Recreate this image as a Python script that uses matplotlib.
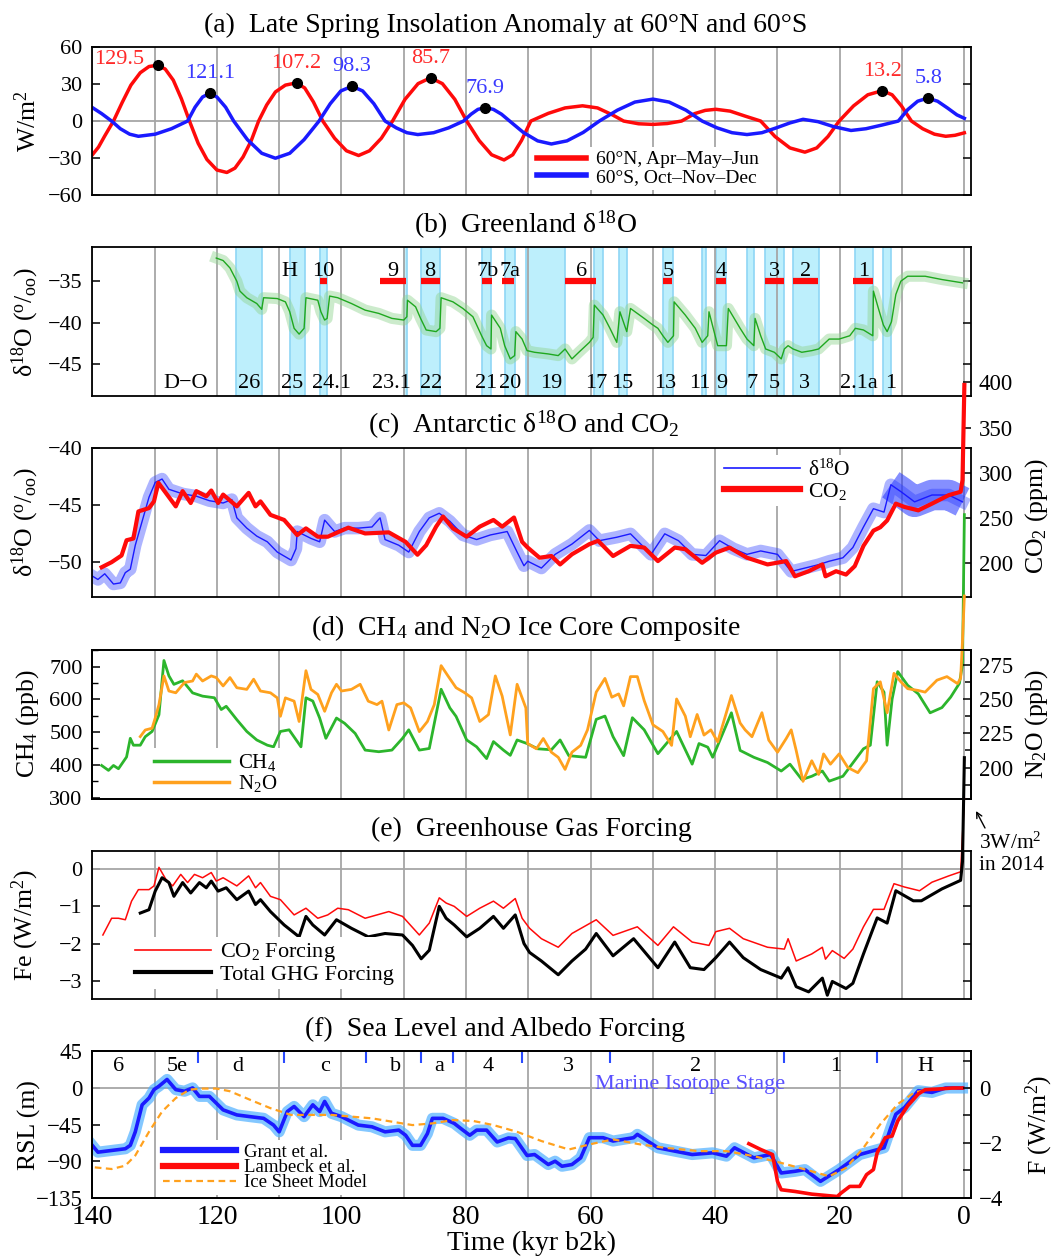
import matplotlib
matplotlib.use('Agg')
import matplotlib.pyplot as plt
from matplotlib.lines import Line2D
from matplotlib.ticker import MultipleLocator, FuncFormatter

plt.rcParams['font.family'] = ['Liberation Serif', 'DejaVu Serif']
plt.rcParams['mathtext.fontset'] = 'custom'
plt.rcParams['mathtext.rm'] = 'Liberation Serif'
plt.rcParams['mathtext.it'] = 'Liberation Serif:italic'
plt.rcParams['axes.linewidth'] = 1.3

# ---------------- data (kyr b2k, value) ----------------
# (a) insolation anomaly
ins_n = [(140, -27.3), (139, -21), (138, -12), (136.6, 0), (135.2, 15), (133.8, 29), (132.3, 39),
         (130.9, 44), (129.6, 45), (128.3, 42), (127, 33), (125.7, 18), (124.4, 0), (123, -18),
         (121.6, -31), (120, -39.5), (118.4, -41.5), (117.1, -38), (115.8, -29), (114.5, -16),
         (113.3, 0), (112, 13), (110.6, 23.5), (109, 29), (107.25, 30.8), (105.9, 26.7), (104.5, 15.4),
         (103, 0), (101.1, -13.9), (99.2, -24), (97.25, -27.8), (95.5, -24), (93.6, -13.9), (91.8, 0),
         (89.8, 17.5), (87.7, 30.2), (85.7, 34.9), (83.8, 30.2), (81.8, 17.5), (79.9, 0), (77.9, -15.7),
         (75.9, -27.2), (73.9, -31.4), (72.5, -27.2), (71.1, -15.7), (69.6, 0), (66.8, 6.2), (64.1, 10.6),
         (61.3, 12.3), (58.9, 10.6), (56.5, 5), (54.7, 0), (52.3, -2.2), (50, -2.7), (47.7, -2.0),
         (45.4, 0), (43.3, 6), (41.6, 8.6), (39.9, 9.5), (37.6, 8.0), (35.2, 4), (32.7, 0),
         (30.4, -12.5), (28, -21.7), (25.6, -25.1), (23.7, -21.7), (21.9, -12.5), (20.1, 0),
         (17.8, 12.2), (15.5, 21.2), (13.2, 24.5), (11.6, 21.2), (10.1, 12.2), (8.5, 0), (6.7, -6.2),
         (4.8, -10.6), (3, -12.3), (1.5, -11.5), (0, -9.5)]
ins_s = [(140, 10.9), (138.5, 6), (136.9, 0), (135.5, -6.2), (134, -10.6), (132.6, -12.3),
         (129.9, -10.6), (127.3, -6.2), (124.7, 0), (123.5, 11.2), (122.3, 19.4), (121.15, 22.4),
         (120, 19.4), (118.6, 11.2), (117.3, 0), (115.1, -15), (112.8, -26), (110.6, -30), (108.3, -26),
         (106, -15), (103.6, 0), (101.8, 14), (100.1, 24.3), (98.3, 28.1), (96.6, 24.3), (94.8, 14),
         (93, 0), (91.2, -5.5), (89.5, -9.4), (87.75, -10.9), (85.2, -9.4), (82.8, -5.5), (80.4, 0),
         (79.2, 5.5), (78.1, 9.4), (76.9, 10.9), (75.6, 9.4), (74.3, 5.5), (73, 0), (70.8, -9.2),
         (68.5, -16), (66.3, -18.5), (63.8, -16), (61.2, -9.2), (58.6, 0), (55.7, 8.8), (52.9, 15.3),
         (50, 17.7), (47.4, 15.3), (44.7, 8.8), (42.1, 0), (39.7, -5.5), (37.3, -9.4), (34.9, -10.9),
         (32.5, -9.4), (30.2, -5.5), (28, -1.5), (25.9, 1.4), (23.5, -0.5), (21, -4.5), (18.2, -7.6),
         (15.8, -6.2), (13.2, -3.2), (10.6, 0), (9.1, 9.2), (7.5, 16), (5.9, 18.5), (4.3, 16),
         (2.7, 10.5), (1.2, 5), (0, 2.2)]
peak_n_kyr = [129.5, 107.2, 85.7, 13.2]
peak_n_val = [45, 30.8, 34.9, 24.5]
peak_s_kyr = [121.1, 98.3, 76.9, 5.8]
peak_s_val = [22.4, 28.1, 10.9, 18.5]

# (b) Greenland d18O
green_d18o = [(120.1, -32.2), (119.0, -32.5), (117.9, -33.4), (116.8, -35.0), (116.3, -36.2),
              (115.2, -37.0), (113.6, -37.7), (112.8, -38.4), (112.5, -37.0), (110.3, -37.1),
              (109.0, -37.5), (108.3, -38.7), (107.6, -40.7), (106.8, -41.4), (106.0, -40.7),
              (105.7, -37.0), (103.8, -37.3), (103.3, -38.7), (102.7, -39.7), (102.3, -39.5),
              (101.9, -36.8), (100.6, -37.0), (98.4, -37.7), (96.2, -38.5), (94.0, -38.9), (91.9, -39.5),
              (90.0, -39.7), (89.5, -39.3), (89.4, -37.3), (88.1, -38.1), (87.3, -39.5), (86.4, -40.9),
              (84.8, -41.1), (84.2, -40.7), (84.0, -37.0), (82.1, -37.5), (80.5, -38.3), (78.9, -39.3),
              (77.5, -41.6), (76.7, -42.8), (76.0, -43.2), (75.9, -39.1), (74.5, -40.7), (73.8, -42.8),
              (72.9, -44.4), (72.2, -44.0), (72.0, -41.1), (71.0, -42.0), (70.2, -43.4), (69.0, -43.6),
              (66.8, -43.8), (65.2, -44.0), (64.1, -43.2), (63.0, -44.4), (61.9, -43.6), (60.2, -42.4),
              (59.6, -41.8), (59.4, -37.9), (58.0, -39.1), (56.9, -40.7), (55.8, -42.4), (55.3, -38.7),
              (54.2, -41.1), (53.6, -38.3), (51.4, -39.5), (50.0, -40.3), (49.2, -40.7), (48.4, -41.6),
              (47.6, -42.4), (46.7, -41.6), (46.6, -37.5), (44.8, -39.1), (43.2, -40.7), (42.1, -42.4),
              (41.2, -41.6), (41.0, -38.7), (39.6, -42.8), (38.2, -42.8), (37.9, -38.3), (36.0, -40.7),
              (34.9, -42.0), (33.8, -42.8), (33.6, -39.5), (32.7, -41.6), (31.9, -43.2), (30.5, -43.6),
              (29.4, -44.4), (28.9, -43.2), (28.3, -42.8), (27.5, -43.2), (26.1, -43.6), (24.5, -43.4),
              (23.4, -43.2), (21.7, -42.0), (20.1, -42.0), (18.4, -41.6), (17.5, -40.7), (16.2, -40.9),
              (14.7, -41.6), (14.6, -36.2), (13.8, -38.3), (13.0, -40.3), (12.4, -41.1), (11.7, -39.9),
              (11.0, -36.6), (10.2, -35.0), (9.1, -34.4), (6.3, -34.4), (3.6, -34.8), (0.3, -35.2)]
stadials = [(117.0, 112.8), (108.3, 105.9), (103.5, 102.3), (90.0, 89.5), (87.3, 84.2), (77.5, 76.0),
            (73.8, 72.2), (70.4, 64.1), (59.5, 58.0), (55.4, 54.2), (48.4, 46.7), (42.2, 41.4),
            (39.8, 38.2), (34.9, 33.8), (32.0, 28.9), (27.5, 23.4), (17.5, 14.7), (13.0, 11.7)]
do_labels = ['D\u2212O', '26', '25', '24.1', '23.1', '22', '21', '20', '19', '17', '15', '13', '11',
             '9', '7', '5', '3', '2.1a', '1']
do_x = [125.0, 114.9, 108.0, 101.6, 91.9, 85.6, 76.8, 73.0, 66.4, 59.1, 55.0, 48.1, 42.5, 39.0,
        34.1, 30.5, 25.6, 16.9, 11.8]
heinrich_labels = ['H', '10', '9', '8', '7b', '7a', '6', '5', '4', '3', '2', '1']
heinrich_x = [108.3, 103.0, 91.7, 85.8, 76.6, 73.0, 61.5, 47.6, 39.0, 30.5, 25.5, 16.2]
heinrich_bars = [(103.5, 102.3), (93.8, 89.7), (87.3, 84.2), (77.5, 75.9), (74.2, 72.3),
                 (64.1, 59.1), (48.4, 47.0), (39.9, 38.2), (32.0, 28.9), (27.5, 23.5), (17.8, 14.7)]

# (c) Antarctic d18O and CO2
ant_d18o = [(140, -51.2), (139.1, -51.5), (138.0, -51.0), (136.6, -51.9), (135.5, -51.8),
            (134.7, -50.9), (133.9, -50.6), (133.1, -48.5), (132.0, -46.4), (130.9, -44.3),
            (129.9, -43.0), (128.8, -42.7), (127.7, -43.6), (125.5, -44.0), (123.3, -44.2),
            (121.2, -44.6), (119.0, -44.8), (117.6, -44.5), (116.8, -46.1), (115.2, -47.0),
            (113.6, -47.7), (111.9, -48.2), (110.3, -49.1), (108.1, -49.8), (107.3, -48.8),
            (107.1, -47.3), (104.9, -47.9), (103.5, -48.2), (102.7, -46.3), (101.1, -47.3),
            (99.5, -47.0), (97.3, -47.0), (95.1, -46.9), (93.8, -46.1), (93.0, -48.0), (90.8, -48.5),
            (89.2, -49.1), (87.5, -47.3), (85.9, -46.1), (84.3, -45.7), (82.6, -46.4), (80.5, -47.6),
            (78.3, -48.0), (76.1, -47.6), (73.4, -47.3), (71.8, -49.1), (70.7, -50.3), (70.1, -49.9),
            (67.9, -50.5), (65.7, -49.3), (63.0, -48.4), (60.2, -47.2), (58.6, -48.1), (55.8, -47.8),
            (53.6, -47.5), (50.3, -49.3), (48.1, -47.5), (45.9, -48.1), (43.7, -49.3), (41.5, -49.4),
            (39.3, -48.1), (37.1, -48.8), (34.9, -49.3), (32.7, -49.0), (30.0, -49.3), (27.8, -50.8),
            (25.6, -50.5), (23.4, -50.2), (21.7, -49.9), (19.5, -49.6), (17.9, -48.7), (16.2, -46.9),
            (14.6, -45.3), (12.9, -45.6), (11.8, -43.2), (10.2, -43.8), (8.0, -44.7), (5.2, -44.1),
            (2.5, -44.1), (0.3, -44.7)]
co2 = [(138.5, 195.8), (136.9, 201.4), (135.3, 208.8), (134.5, 225.6), (133.4, 227.5), (132.6, 257.4),
       (130.9, 261.1), (130.1, 268.5), (129.4, 289.1), (128.2, 277.9), (126.6, 263.0), (125.5, 279.8),
       (124.2, 266.7), (123.3, 279.8), (121.7, 274.1), (120.9, 280.5), (119.8, 266.7), (119.0, 276.0),
       (116.8, 263.0), (114.9, 277.9), (113.8, 263.0), (113.0, 268.5), (111.4, 253.6), (109.2, 248.0),
       (107.1, 231.3), (105.7, 238.7), (103.8, 229.5), (102.2, 229.5), (98.9, 239.5), (96.2, 233.1),
       (92.4, 234.3), (89.7, 223.8), (87.8, 209.6), (86.4, 220.1), (84.8, 240.6), (83.7, 251.8),
       (82.1, 238.7), (79.9, 229.5), (77.8, 240.6), (75.6, 248.0), (74.2, 240.6), (72.3, 250.7),
       (71.0, 223.8), (70.1, 217.5), (68.2, 206.3), (66.3, 208.2), (64.9, 198.9), (63.0, 210.1),
       (60.2, 221.3), (58.8, 225.0), (56.4, 208.2), (53.6, 219.4), (51.4, 217.5), (49.2, 202.6),
       (46.5, 217.5), (44.8, 215.7), (42.1, 200.7), (39.9, 211.9), (37.7, 217.5), (34.9, 206.3),
       (31.6, 198.9), (28.6, 202.6), (27.2, 185.8), (25.0, 191.4), (22.8, 198.9), (22.3, 185.8),
       (20.6, 191.4), (19.0, 187.7), (17.6, 197.0), (16.2, 219.4), (14.6, 236.2), (13.5, 239.9),
       (12.4, 247.4), (11.0, 266.0), (9.6, 262.3), (7.4, 258.6), (5.2, 266.0), (2.5, 275.4),
       (0.6, 279.1), (0.3, 292), (0.0, 397)]

# (d) CH4 and N2O
ch4 = [(138.5, 398), (137.4, 383), (136.6, 398), (135.8, 388), (134.5, 424), (133.9, 481), (133.4, 460),
       (132.3, 460), (131.5, 486), (130.4, 502), (129.3, 553), (128.5, 719), (127.7, 672), (126.9, 646),
       (125.5, 657), (123.9, 620), (122.3, 610), (120.4, 605), (119.3, 569), (118.5, 579), (116.8, 538),
       (115.2, 502), (113.6, 476), (111.9, 460), (110.9, 455), (109.8, 502), (108.4, 507), (106.5, 455),
       (105.7, 605), (104.6, 595), (103.5, 543), (102.5, 481), (100.8, 543), (99.5, 527), (97.8, 496),
       (96.2, 445), (94.0, 440), (91.9, 445), (90.2, 481), (89.2, 507), (87.5, 445), (85.9, 450),
       (84.0, 631), (82.6, 574), (81.6, 548), (79.9, 476), (78.3, 455), (76.7, 419), (75.6, 471),
       (74.0, 445), (72.9, 429), (71.8, 476), (70.2, 465), (68.5, 449), (66.3, 446), (64.9, 476),
       (63.5, 428), (60.8, 423), (59.1, 539), (57.7, 549), (56.4, 486), (54.7, 428), (53.3, 544),
       (51.4, 507), (49.2, 434), (46.2, 502), (43.7, 402), (42.6, 465), (41.2, 454), (40.4, 423),
       (37.4, 559), (36.0, 444), (33.8, 423), (31.6, 407), (29.4, 381), (28.0, 402), (26.1, 355),
       (24.5, 365), (22.8, 381), (21.7, 350), (19.5, 365), (16.2, 449), (15.1, 460), (14.0, 654),
       (12.9, 622), (12.4, 460), (11.6, 601), (10.7, 685), (9.1, 643), (7.4, 617), (5.5, 559),
       (3.6, 575), (2.2, 607), (0.8, 649), (0.3, 706), (0.0, 1165)]
n2o = [(132.3, 222.6), (131.5, 227.4), (130.4, 228.7), (129.9, 236.1), (129.3, 245.9), (128.5, 266.8),
       (127.7, 255.8), (126.6, 254.5), (125.2, 262.0), (123.9, 263.1), (123.3, 268.1), (122.3, 263.1),
       (120.9, 266.8), (120.1, 265.6), (119.0, 259.5), (117.9, 265.6), (116.8, 258.2), (115.2, 257.0),
       (114.1, 264.4), (113.0, 255.8), (111.4, 254.5), (110.3, 250.8), (109.8, 237.4), (109.0, 250.8),
       (107.6, 248.4), (106.8, 233.6), (105.7, 270.6), (104.9, 257.0), (103.8, 253.3), (102.7, 241.0),
       (101.6, 254.5), (100.8, 260.7), (100.0, 255.8), (98.4, 257.0), (97.0, 260.7), (95.7, 248.4),
       (94.3, 245.9), (93.5, 248.4), (92.4, 227.4), (91.1, 245.9), (90.0, 247.2), (88.9, 243.5),
       (87.5, 226.2), (86.2, 233.6), (85.1, 245.9), (84.0, 274.3), (82.9, 266.8), (81.6, 258.2),
       (80.2, 254.5), (79.1, 250.8), (77.8, 233.6), (76.4, 238.6), (75.3, 266.8), (74.2, 252.1),
       (72.9, 223.8), (71.8, 260.7), (70.4, 243.5), (70.1, 217.5), (68.7, 213.7), (67.6, 221.2),
       (66.3, 211.2), (65.2, 207.5), (64.1, 198.7), (63.0, 211.2), (61.6, 216.2), (60.5, 227.5),
       (59.1, 255.0), (57.7, 265.0), (56.6, 251.3), (55.5, 253.7), (54.7, 245.0), (53.6, 266.3),
       (52.5, 266.3), (51.4, 248.8), (50.0, 231.2), (48.4, 226.3), (47.0, 216.2), (46.2, 250.0),
       (44.8, 237.5), (44.0, 222.5), (42.9, 238.7), (41.8, 223.7), (40.7, 227.5), (39.6, 218.7),
       (37.4, 252.5), (36.0, 232.5), (35.2, 227.5), (34.1, 222.5), (32.5, 240.0), (31.4, 220.0),
       (30.0, 211.2), (28.6, 221.2), (27.8, 227.5), (27.0, 212.5), (25.9, 190.0), (24.5, 205.0),
       (23.4, 195.0), (22.6, 210.0), (21.5, 202.5), (20.1, 210.0), (18.7, 200.0), (17.1, 196.3),
       (15.7, 205.0), (14.6, 257.5), (13.5, 262.5), (12.4, 240.0), (11.3, 268.7), (10.2, 262.5),
       (9.1, 257.5), (7.4, 256.2), (6.3, 255.0), (4.4, 263.7), (2.8, 266.3), (1.1, 261.2),
       (0.6, 265.0), (0.3, 292.5), (0.0, 325)]

# (e) GHG forcing (W/m2)
co2_forcing = [(138.3, -1.77), (136.9, -1.32), (135.8, -1.32), (134.7, -1.36), (133.7, -0.86),
               (132.6, -0.55), (130.9, -0.55), (130.1, -0.45), (129.3, 0.05), (128.2, -0.27),
               (127.1, -0.45), (125.8, -0.14), (124.7, -0.36), (123.6, -0.14), (122.3, -0.23),
               (120.9, -0.09), (120.1, -0.32), (119.0, -0.23), (116.8, -0.45), (114.9, -0.18),
               (113.8, -0.50), (113.0, -0.36), (111.4, -0.73), (109.8, -0.82), (107.6, -1.23),
               (105.7, -1.05), (103.8, -1.32), (102.2, -1.23), (100.6, -1.05), (98.9, -1.09),
               (96.2, -1.32), (92.4, -1.14), (90.2, -1.27), (87.5, -1.77), (85.9, -1.45), (84.3, -0.77),
               (83.2, -0.91), (81.9, -1.0), (79.9, -1.27), (77.8, -1.05), (75.6, -0.86), (74.0, -1.05),
               (72.1, -0.79), (71.0, -1.32), (69.8, -1.59), (67.9, -1.87), (65.2, -2.10), (63.0, -1.73),
               (59.1, -1.36), (56.4, -1.78), (52.5, -1.55), (49.2, -2.05), (46.7, -1.55), (43.7, -1.96),
               (41.0, -2.05), (39.9, -1.68), (37.7, -1.59), (35.5, -1.87), (31.6, -2.10), (28.9, -2.15),
               (28.3, -1.87), (27.0, -2.47), (24.5, -2.28), (22.8, -2.10), (22.3, -2.42), (21.2, -2.19),
               (19.3, -2.40), (17.9, -2.15), (16.2, -1.55), (14.6, -1.08), (12.9, -1.08), (11.3, -0.39),
               (9.6, -0.48), (7.2, -0.58), (5.2, -0.35), (2.5, -0.18), (0.6, -0.07), (0.0, 1.9)]
ghg_forcing = [(132.3, -1.18), (130.9, -1.09), (129.9, -0.59), (128.8, -0.23), (127.7, -0.36),
               (126.9, -0.73), (125.5, -0.36), (124.2, -0.64), (122.8, -0.36), (121.7, -0.5),
               (120.9, -0.32), (119.8, -0.59), (118.5, -0.5), (116.8, -0.82), (114.9, -0.59),
               (113.8, -0.95), (113.0, -0.82), (111.4, -1.14), (109.2, -1.5), (106.8, -1.82),
               (105.7, -1.27), (104.6, -1.5), (102.7, -1.77), (100.8, -1.36), (98.4, -1.59), (95.7, -1.82),
               (93.0, -1.73), (90.2, -1.77), (88.6, -2.05), (87.2, -2.41), (85.9, -2.18), (84.3, -1.0),
               (83.2, -1.32), (81.9, -1.5), (79.9, -1.82), (77.8, -1.59), (75.6, -1.27), (74.0, -1.59),
               (72.1, -1.23), (70.7, -2.0), (69.8, -2.24), (67.9, -2.47), (65.2, -2.84), (63.0, -2.47),
               (60.8, -2.15), (59.1, -1.73), (56.4, -2.33), (53.1, -1.87), (49.2, -2.65), (46.5, -1.96),
               (44.0, -2.65), (41.8, -2.70), (39.9, -2.38), (37.7, -1.96), (35.5, -2.38), (32.7, -2.70),
               (29.4, -2.93), (28.3, -2.65), (27.0, -3.16), (25.0, -3.30), (22.8, -2.93), (22.0, -3.39),
               (21.2, -3.02), (19.0, -3.21), (17.9, -3.07), (16.2, -2.28), (14.0, -1.31), (12.4, -1.45),
               (11.0, -0.58), (8.2, -0.85), (6.9, -0.85), (3.6, -0.53), (0.6, -0.30), (0.3, 0.21),
               (0.0, 3.0)]

# (f) sea level (m)
grant = [(140, -70.5), (139.1, -78.9), (136.9, -76.8), (134.7, -74.7), (133.9, -70.5), (133.1, -53.9),
         (132.0, -20.7), (130.9, -12.4), (130.1, -2.0), (129.3, 2.2), (128.0, 10.5), (126.6, -2.0),
         (125.2, -4.0), (123.9, 0.1), (122.8, -10.3), (121.2, -10.3), (120.1, -18.6), (119.0, -26.9),
         (116.8, -33.1), (114.7, -35.2), (112.5, -37.3), (110.9, -45.6), (110.0, -53.9), (108.7, -29.0),
         (107.6, -22.7), (106.0, -35.2), (104.6, -20.7), (103.5, -29.0), (102.7, -16.5), (101.6, -31.1),
         (100.0, -35.2), (97.3, -45.6), (95.1, -47.7), (93.0, -53.9), (90.8, -51.8), (89.7, -58.1),
         (88.6, -70.5), (87.3, -70.5), (86.2, -56.0), (85.4, -37.3), (83.7, -37.3), (81.9, -43.5),
         (80.5, -51.8), (79.4, -58.1), (78.3, -51.8), (76.7, -51.8), (75.0, -66.4), (73.2, -61.4),
         (72.1, -62.2), (70.2, -83.0), (69.0, -81.8), (66.8, -94.1), (65.7, -90.0), (64.6, -96.2),
         (63.0, -94.1), (61.6, -85.9), (60.2, -61.1), (58.0, -61.1), (56.4, -65.2), (53.1, -61.1),
         (52.5, -57.0), (49.2, -73.5), (46.5, -77.6), (43.7, -81.8), (40.4, -79.7), (38.2, -83.8),
         (36.9, -73.5), (33.8, -85.9), (31.1, -81.8), (29.4, -104.5), (27.2, -102.4), (25.6, -100.3),
         (23.1, -114.8), (20.1, -100.3), (16.8, -81.8), (12.9, -73.5), (11.8, -48.7), (11.0, -32.2),
         (9.6, -23.9), (7.4, -3.3), (5.2, -5.4), (3.0, 0), (0.3, 0)]
lambeck = [(34.6, -68.5), (32.7, -75.6), (30.8, -81.8), (30.0, -114.8), (29.4, -125.1), (27.2, -127.2),
           (24.5, -130.5), (20.4, -133.4), (19.8, -129.2), (18.4, -121.0), (16.8, -121.0), (15.7, -106.5),
           (14.6, -100.3), (14.0, -79.7), (12.7, -61.1), (11.6, -59.0), (10.7, -40.5), (9.1, -21.9),
           (7.4, -7.4), (6.3, -2.1), (4.1, -1.2), (1.9, 0), (0.3, 0)]
ice_model = [(139.6, -97.6), (136.9, -99.6), (134.7, -95.5), (133.1, -83.0), (130.9, -53.9),
             (128.8, -29.0), (126.6, -12.4), (124.4, -2.0), (122.3, -0.7), (120.1, -0.7), (117.9, -4.0),
             (114.7, -14.4), (111.4, -24.8), (108.1, -33.1), (104.9, -33.1), (101.6, -33.1),
             (98.4, -35.2), (95.1, -37.3), (91.9, -41.4), (88.6, -45.6), (85.4, -43.5), (82.1, -39.4),
             (78.8, -40.6), (75.6, -45.6), (71.8, -53.9), (67.9, -65.2), (63.5, -75.6), (60.2, -69.4),
             (56.4, -63.2), (52.0, -69.4), (48.1, -73.5), (42.6, -77.6), (38.2, -77.6), (33.8, -83.8),
             (29.4, -92.1), (24.5, -102.4), (21.7, -108.6), (19.0, -98.3), (16.2, -73.5), (13.5, -44.6),
             (10.7, -19.8), (8.0, -5.4), (5.2, -1.2), (0.3, 0)]
mis_labels = ['6', '5e', 'd', 'c', 'b', 'a', '4', '3', '2', '1', 'H']
mis_x = [135.8, 126.3, 116.6, 102.7, 91.3, 84.3, 76.4, 63.5, 43.2, 20.7, 6.3]
mis_bounds = [123.1, 109.2, 96.0, 87.3, 82.1, 71.0, 56.9, 28.9, 14.0]

# ---------------- style ----------------
RED = '#ff0a0a'
BLUE = '#1a1aff'
GREEN = '#2cb52c'
ORANGE = '#ffa11e'
GRID = '#a6a6a6'
W, H = 1058, 1259
X0, X1 = 92.3, 970.6
TICK_FS = 16
LAB_FS = 18.5

fig = plt.figure(figsize=(W / 100, H / 100), dpi=100)


def xy(pairs):
    return [p[0] for p in pairs], [p[1] for p in pairs]


def box(top, bot):
    return [X0 / W, 1 - bot / H, (X1 - X0) / W, (bot - top) / H]


def setup(ax, ylim, yticks, ylabel, right=True):
    ax.set_xlim(140, -1)
    ax.set_ylim(*ylim)
    ax.set_xticks(list(range(0, 141, 10)))
    ax.tick_params(axis='x', length=0, labelbottom=False)
    ax.grid(axis='x', color=GRID, lw=1.3)
    ax.set_axisbelow(True)
    ax.set_yticks(yticks)
    ax.tick_params(axis='y', direction='in', length=6, width=1.1, labelsize=TICK_FS, pad=7, right=right)
    ax.set_ylabel(ylabel, fontsize=LAB_FS)
    ax.yaxis.set_label_coords(-0.058, 0.5)


def right_axis(ax, ylim, yticks, minor, ylabel, label_y=0.5):
    ax.set_ylim(*ylim)
    ax.set_yticks(yticks)
    if minor:
        ax.yaxis.set_minor_locator(MultipleLocator(minor))
    ax.tick_params(axis='y', which='both', direction='in', width=1.1, labelsize=TICK_FS + 0.5, pad=6)
    ax.tick_params(axis='y', which='major', length=6)
    ax.tick_params(axis='y', which='minor', length=4.5)
    ax.yaxis.set_label_position('right')
    ax.set_ylabel(ylabel, fontsize=LAB_FS)
    ax.yaxis.set_label_coords(1.060, label_y)


def title(cx, top, text):
    fig.text(cx / W, 1 - (top - 15) / H, text, ha='center', va='baseline', fontsize=20)


def legend_at(ax, handles, labels, x_px, y_px, fs, hl, tp=0.45, ls=0.05):
    ax.legend(handles, labels, loc='upper left', bbox_to_anchor=(x_px / W, 1 - y_px / H),
              bbox_transform=fig.transFigure, fontsize=fs, handlelength=hl, handletextpad=tp,
              labelspacing=ls, borderpad=0.2, borderaxespad=0, frameon=True, fancybox=False,
              framealpha=1, facecolor='white', edgecolor='none')


# ---------------- (a) ----------------
ax = fig.add_axes(box(46.7, 195.4))
setup(ax, (-60, 60), [-60, -30, 0, 30, 60], 'W/m$^2$')
title(506, 46.7, '(a)  Late Spring Insolation Anomaly at 60\u00b0N and 60\u00b0S')
ax.axhline(0, color=GRID, lw=1.3, zorder=0.6)
ax.plot(*xy(ins_n), color=RED, lw=2.5, solid_joinstyle='round')
ax.plot(*xy(ins_s), color=BLUE, lw=2.5, solid_joinstyle='round')
ax.plot(peak_n_kyr, peak_n_val, 'o', color='k', ms=7, zorder=5)
ax.plot(peak_s_kyr, peak_s_val, 'o', color='k', ms=7, zorder=5)
for k, v in zip(peak_n_kyr, peak_n_val):
    off = (-28, 4) if k > 125 else (0, 14)
    ax.annotate(f'{k:.1f}', (k, v), xytext=off, textcoords='offset points', ha='center',
                va='center', color='#ff2a2a', fontsize=16)
for k, v in zip(peak_s_kyr, peak_s_val):
    ax.annotate(f'{k:.1f}', (k, v), xytext=(0, 14), textcoords='offset points', ha='center',
                va='center', color='#3a3aff', fontsize=16)
legend_at(ax, [Line2D([], [], color=RED, lw=4), Line2D([], [], color=BLUE, lw=4)],
          ['60\u00b0N, Apr\u2013May\u2013Jun', '60\u00b0S, Oct\u2013Nov\u2013Dec'],
          533.6, 147, 14, 2.5, tp=0.5, ls=0.0)

# ---------------- (b) ----------------
PERMIL = 'δ$^{18}$O ($^{\\rm o}/_{\\rm oo}$)'
ax = fig.add_axes(box(247.3, 396.1))
setup(ax, (-48.9, -30.9), [-35, -40, -45], PERMIL)
title(525.5, 247.3, '(b)  Greenland δ$^{18}$O')
for a, b in stadials:
    ax.axvspan(b, a, facecolor='#bdeffc', edgecolor='#8fd6f5', lw=1.2, zorder=0)
gx, gy = xy(green_d18o)
ax.plot(gx, gy, color='#8fd48f', lw=8, alpha=0.45, solid_joinstyle='round')
ax.plot(gx, gy, color='#1fa81f', lw=1.0)
ax.hlines([-35] * len(heinrich_bars), [b[0] for b in heinrich_bars], [b[1] for b in heinrich_bars],
          color=RED, lw=4.5, zorder=4)
for lab, x in zip(heinrich_labels, heinrich_x):
    ax.text(x, -33.8, lab, ha='center', va='center', fontsize=16, zorder=5)
for lab, x in zip(do_labels, do_x):
    ax.text(x, -47.4, lab, ha='center', va='center', fontsize=16, zorder=5)

# ---------------- (c) ----------------
ax = fig.add_axes(box(448.2, 596.6))
setup(ax, (-53, -40), [-40, -45, -50], PERMIL, right=False)
title(524, 448.2, '(c)  Antarctic δ$^{18}$O and CO$_2$')
bx, by = xy(ant_d18o)
ax.plot(bx, by, color='#3344ff', lw=9, alpha=0.4, solid_joinstyle='round')
holo = [p for p in ant_d18o if p[0] <= 12]
ax.plot(*xy(holo), color='#2233ff', lw=22, alpha=0.55, solid_capstyle='butt')
ax.plot(bx, by, color=BLUE, lw=1.0)

co2_px_per_ppm = 0.906
co2_top_px = 377.7
ax_co2 = fig.add_axes([X0 / W, 1 - 596.6 / H, (X1 - X0) / W, (596.6 - co2_top_px) / H])
ax_co2.patch.set_visible(False)
for s in ax_co2.spines.values():
    s.set_visible(False)
ax_co2.set_xlim(140, -1)
ax_co2.xaxis.set_visible(False)
ax_co2.yaxis.tick_right()
right_axis(ax_co2, (163.4, 163.4 + (596.6 - co2_top_px) / co2_px_per_ppm),
           [200, 250, 300, 350, 400], None, 'CO$_2$ (ppm)', label_y=0.368)
ax_co2.plot(*xy(co2), color=RED, lw=3)
legend_at(ax_co2, [Line2D([], [], color=BLUE, lw=1.2), Line2D([], [], color=RED, lw=4.5)],
          ['δ$^{18}$O', 'CO$_2$'], 720, 455, 15.5, 3.5, tp=0.4, ls=0.0)

# ---------------- (d) ----------------
ax = fig.add_axes(box(649.7, 798.5))
setup(ax, (297, 752), [300, 400, 500, 600, 700], 'CH$_4$ (ppb)', right=False)
title(526, 649.7, '(d)  CH$_4$ and N$_2$O Ice Core Composite')
ax.yaxis.set_minor_locator(MultipleLocator(50))
ax.tick_params(axis='y', which='minor', direction='in', length=4, width=1)
ax.plot(*xy(ch4), color=GREEN, lw=2, clip_on=False)
axn = ax.twinx()
right_axis(axn, (177.5, 285.9), [200, 225, 250, 275], 12.5, 'N$_2$O (ppb)')
axn.plot(*xy(n2o), color=ORANGE, lw=2, clip_on=False)
legend_at(axn, [Line2D([], [], color=GREEN, lw=2.5), Line2D([], [], color=ORANGE, lw=2.5)],
          ['CH$_4$', 'N$_2$O'], 149.8, 748, 15, 3.6, tp=0.42, ls=0.0)

# ---------------- (e) ----------------
ax = fig.add_axes(box(850.6, 999.3))
setup(ax, (-3.5, 0.5), [0, -1, -2, -3], 'Fe (W/m$^2$)')
title(531, 850.6, '(e)  Greenhouse Gas Forcing')
ax.axhline(0, color=GRID, lw=1.3, zorder=0.6)
ax.plot(*xy(co2_forcing), color=RED, lw=1.1, clip_on=False)
ax.plot(*xy(ghg_forcing), color='k', lw=2.2, clip_on=False)
ax.annotate('', xy=(976 / W, 1 - 811 / H), xytext=(985 / W, 1 - 828 / H), xycoords='figure fraction',
            arrowprops=dict(arrowstyle='->', lw=1.0, color='k', shrinkA=0, shrinkB=0))
fig.text(979 / W, 1 - 843 / H, '3W/m$^2$', fontsize=15.5, va='center', ha='left')
fig.text(979 / W, 1 - 866 / H, 'in 2014', fontsize=15.5, va='center', ha='left')
legend_at(ax, [Line2D([], [], color=RED, lw=1.2), Line2D([], [], color='k', lw=3)],
          ['CO$_2$ Forcing', 'Total GHG Forcing'], 131, 937, 16, 3.4, tp=0.4, ls=0.0)

# ---------------- (f) ----------------
ax = fig.add_axes(box(1051.4, 1197.8))
setup(ax, (-135, 45), [45, 0, -45, -90, -135], 'RSL (m)', right=False)
title(494.6, 1051.4, '(f)  Sea Level and Albedo Forcing')
ax.tick_params(axis='y', labelsize=TICK_FS + 0.5)
ax.tick_params(axis='x', labelbottom=True, labelsize=20, pad=5)
ax.xaxis.set_major_formatter(FuncFormatter(lambda v, p: f'{int(round(v))}' if round(v) % 20 == 0 else ''))
ax.set_xlabel('Time (kyr b2k)', fontsize=20, labelpad=1)
ax.axhline(0, color=GRID, lw=1.3, zorder=0.6)
gx, gy = xy(grant)
ax.plot(gx, gy, color='#4fb0ff', lw=8, alpha=0.7, solid_joinstyle='round')
ax.plot(gx, gy, color=BLUE, lw=2.6)
ax.plot(*xy(ice_model), color=ORANGE, lw=1.6, ls=(0, (3, 2)))
ax.plot(*xy(lambeck), color=RED, lw=2.6)
ax.vlines(mis_bounds, 0.92, 1.0, transform=ax.get_xaxis_transform(), color='#2b4bff', lw=1.5)
for lab, x in zip(mis_labels, mis_x):
    ax.text(x, 27, lab, ha='center', va='center', fontsize=16)
ax.text(44.0, 4, 'Marine Isotope Stage', ha='center', va='center', fontsize=16, color='#5a50ff')
axf = ax.twinx()
right_axis(axf, (-4, 45 / 33.75), [0, -2, -4], 1, 'F (W/m$^2$)')
axf.tick_params(axis='y', which='minor', length=6)
legend_at(axf, [Line2D([], [], color=BLUE, lw=4.5), Line2D([], [], color=RED, lw=4.5),
                Line2D([], [], color=ORANGE, lw=1.6, ls=(0, (3, 2)))],
          ['Grant et al.', 'Lambeck et al.', 'Ice Sheet Model'], 158.8, 1140, 13.5, 3.9, tp=0.45, ls=-0.1)

fig.savefig('out.png', dpi=100)
